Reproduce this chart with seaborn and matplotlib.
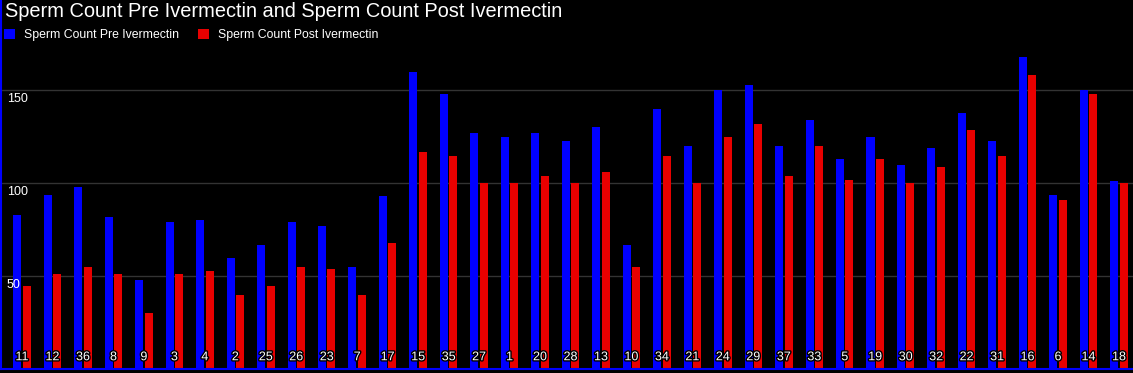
import pandas as pd
import seaborn as sns
import matplotlib.pyplot as plt
import matplotlib.patheffects as pe
from matplotlib.patches import Patch

# patient ids in display order, counts
patients = ['11', '12', '36', '8', '9', '3', '4', '2', '25', '26', '23', '7', '17',
            '15', '35', '27', '1', '20', '28', '13', '10', '34', '21', '24', '29',
            '37', '33', '5', '19', '30', '32', '22', '31', '16', '6', '14', '18']
pre = [83, 93.5, 98, 82, 48, 79, 80, 60, 67, 79, 77, 55, 93,
       160, 148, 127, 125, 127, 122.5, 130, 67, 140, 120, 150, 153,
       120, 134, 113, 125, 110, 119, 138, 122.5, 168, 93.5, 150, 101]
post = [45, 51, 55, 51, 30, 51, 53, 40, 45, 55, 54, 40, 68,
        117, 114.5, 100, 100, 104, 100, 106, 55, 114.5, 100, 125, 132,
        104, 120, 102, 113, 100, 109, 128.5, 114.5, 158, 91, 148, 100]
yticks = [50, 100, 150]

pre_name = 'Sperm Count Pre Ivermectin'
post_name = 'Sperm Count Post Ivermectin'
n = len(patients)
df = pd.DataFrame({'patient': patients * 2,
                   'count': pre + post,
                   'group': [pre_name] * n + [post_name] * n})

colors = ['#0000ff', '#e80000']

sns.set_style('dark', {'axes.facecolor': 'black', 'figure.facecolor': 'black',
                       'grid.color': '#333333'})
plt.rcParams['font.family'] = ['Liberation Sans', 'DejaVu Sans']

W, H = 1133, 373
fig = plt.figure(figsize=(W / 100, H / 100), dpi=100, facecolor='black')
ax = fig.add_axes([1 / W, 3.7 / H, 1 - 1 / W, 369.3 / H])

sns.barplot(data=df, x='patient', y='count', hue='group', order=patients,
            hue_order=[pre_name, post_name], palette=colors, saturation=1,
            width=0.62, gap=0.15, errorbar=None, legend=False, ax=ax,
            linewidth=0, edgecolor='none')

ax.set_xlim(-0.69, 36.46)
ax.set_ylim(0, 198.5)
ax.set_yticks(yticks)
ax.yaxis.grid(True, color='#333333', lw=1)
ax.xaxis.grid(False)
ax.set_axisbelow(True)
ax.set_xlabel('')
ax.set_ylabel('')
ax.set_xticks([])
ax.tick_params(axis='y', length=0, labelleft=False)

for s in ['top', 'right']:
    ax.spines[s].set_visible(False)
for s in ['left', 'bottom']:
    ax.spines[s].set_color('#0000ff')
    ax.spines[s].set_linewidth(1.5)
    ax.spines[s].set_zorder(5)

# y labels drawn inside, just under the grid lines, above the bars
ytrans = ax.get_yaxis_transform()
for v in yticks:
    ax.annotate(str(v), xy=(0, v), xycoords=ytrans, xytext=(6, -3),
                textcoords='offset pixels', ha='left', va='top',
                color='white', fontsize=9, zorder=6)

# patient id labels inside the plot, near the bottom
for i, p in enumerate(patients):
    ax.text(i, 6.5, p, ha='center', va='center', color='white', fontsize=9,
            zorder=6, path_effects=[pe.withStroke(linewidth=2, foreground='black')])

fig.text(5 / W, 1 - 11.5 / H, 'Sperm Count Pre Ivermectin and Sperm Count Post Ivermectin',
         color='white', fontsize=14.4, va='center', ha='left')

handles = [Patch(facecolor=c, edgecolor='none') for c in colors]
fig.legend(handles, [pre_name, post_name], loc='upper left',
           bbox_to_anchor=(4 / W, 1 - 29 / H), ncol=2, frameon=False,
           fontsize=8.8, handlelength=0.9, handleheight=0.9,
           handletextpad=0.75, columnspacing=1.5, labelcolor='white',
           borderaxespad=0, borderpad=0)

fig.savefig('out.png', dpi=100, facecolor='black')
